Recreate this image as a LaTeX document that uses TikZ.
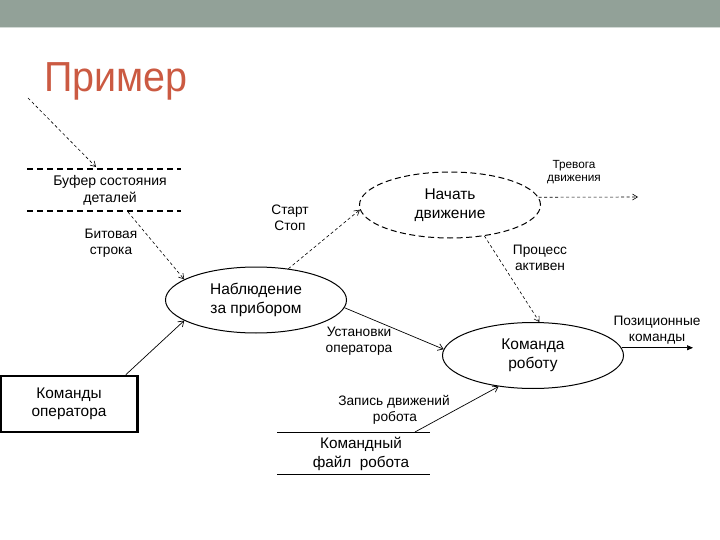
\documentclass[tikz,border=0pt]{standalone}
\usepackage{fontspec}
\setmainfont{Liberation Sans}
\usetikzlibrary{shapes.geometric,arrows.meta}
\definecolor{band}{RGB}{146,161,152}
\definecolor{titlec}{RGB}{203,90,66}
\tikzset{
  lbl/.style={align=center,font=\fontsize{13.7}{16}\selectfont,inner sep=0pt},
  slbl/.style={align=center,font=\fontsize{11.8}{13.5}\selectfont,inner sep=0pt},
  proc/.style={ellipse,draw,line width=1pt,minimum width=181pt,minimum height=66pt,align=center,font=\fontsize{15.5}{19}\selectfont,inner sep=0pt},
  dproc/.style={proc,dash pattern=on 6pt off 3.5pt},
  darr/.style={-{Straight Barb[length=5pt,width=6pt]},dash pattern=on 3pt off 2.5pt,line width=0.6pt},
  sarr/.style={-{Straight Barb[length=5pt,width=7pt]},line width=0.7pt},
  store/.style={line width=0.8pt},
}
\begin{document}
\begin{tikzpicture}[x=1pt,y=-1pt]
\useasboundingbox (0,0) rectangle (720,540);
\fill[band] (0,0) rectangle (720,27);
\fill[band!40] (0,27) rectangle (720,28.5);
\node[anchor=base west,text=titlec,font=\fontsize{42}{46}\selectfont,inner sep=0pt] (title) at (44,92) {\scalebox{0.94}[1]{Пример}};

% buffer store
\coordinate (bl1) at (27,169); \coordinate (br1) at (181,169);
\coordinate (bl2) at (27,211); \coordinate (br2) at (181,211);
\draw[dash pattern=on 6pt off 4pt,line width=1.6pt] (bl1) -- (br1);
\draw[dash pattern=on 6pt off 4pt,line width=1.6pt] (bl2) -- (br2);
\node[align=center,font=\fontsize{14}{17}\selectfont,inner sep=0pt] (buf) at (110,190) {Буфер состояния\\деталей};
\coordinate (src) at (28,98);
\coordinate (bufin) at (96,167);
\coordinate (bufout) at (128,212);

% processes
\node[proc] (watch) at (256,300) {Наблюдение\\за прибором};
\node[dproc] (start) at (450,205) {Начать\\движение};
\node[proc] (cmd) at (533,355.5) {Команда\\роботу};

% operator box
\node[draw,line width=2.6pt,minimum width=137pt,minimum height=56pt,align=center,font=\fontsize{15.4}{18.5}\selectfont,inner sep=0pt] (op) at (69,404) {Команды\\оператора};

% command file store
\coordinate (fl1) at (277,432); \coordinate (fr1) at (430,432);
\coordinate (fl2) at (277,474); \coordinate (fr2) at (430,474);
\draw[store] (fl1) -- (fr1);
\draw[store] (fl2) -- (fr2);
\node[align=center,font=\fontsize{15.3}{18.5}\selectfont,inner sep=0pt] (file) at (361,454) {Командный\\файл\ \ робота};

% outputs
\coordinate (alarm) at (638,197);
\coordinate (pos) at (693,348);

% connectors
\draw[darr] (src) -- (bufin);
\draw[darr] (bufout) -- (watch.164);
\draw[darr] (watch.44) -- (start.183);
\draw[darr] (start.5) -- (alarm);
\draw[darr] (start.-42) -- (cmd.79);
\draw[sarr] (watch.-5) -- (cmd.176);
\draw[sarr] (op.north east) ++(-13,0) coordinate (opout) -- (watch.-164);
\draw[-{Triangle[length=6pt,width=5pt]},line width=0.7pt] (cmd.5) -- (cmd.5 -| pos);
\coordinate (fileout) at (415,432);
\draw[sarr] (fileout) -- (cmd.-138);

% labels
\node[lbl] (l1) at (111,243) {Битовая\\строка};
\node[lbl] (l2) at (290,218) {Старт\\Стоп};
\node[slbl] (l3) at (574,172) {Тревога\\движения};
\node[lbl] (l4) at (540,258) {Процесс\\активен};
\node[lbl] (l5) at (359,341) {Установки\\оператора};
\node[lbl] (l6) at (657,330) {Позиционные\\команды};
\node[lbl] (l7) at (394,410) {Запись движений\\\hspace*{2pt}робота};
\end{tikzpicture}
\end{document}
